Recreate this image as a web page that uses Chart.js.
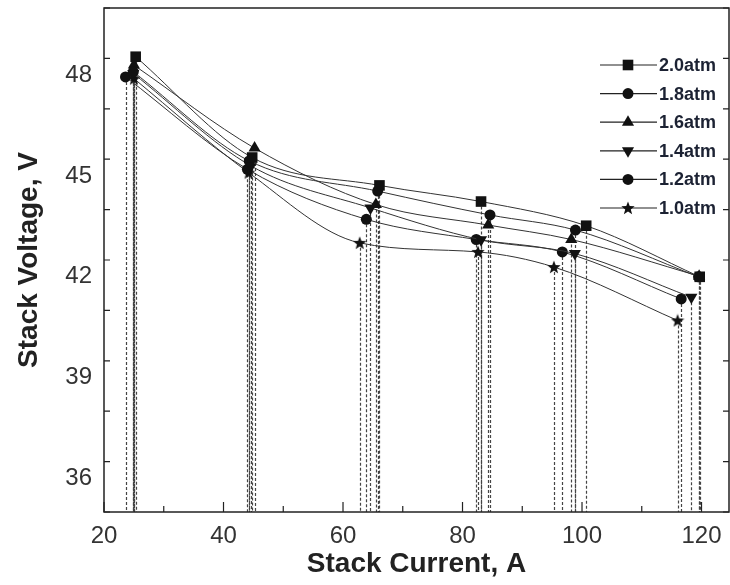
<!DOCTYPE html>
<html>
<head>
<meta charset="utf-8">
<script src="https://cdn.jsdelivr.net/npm/chart.js@4.4.1/dist/chart.umd.min.js"></script>
<style>
  html, body { margin: 0; padding: 0; background: #fff; }
  #wrap { width: 730px; height: 585px; }
</style>
</head>
<body>
<div id="wrap"><canvas id="myChart" width="730" height="585"></canvas></div>
<script>
// series names (cathode pressure)
var seriesLabels = ["2.0atm", "1.8atm", "1.6atm", "1.4atm", "1.2atm", "1.0atm"];

// stack current (A) / stack voltage (V)
var current20 = [25.3, 44.8, 66.1, 83.1, 100.7, 119.7];
var voltage20 = [48.55, 45.55, 44.72, 44.24, 43.52, 42.0];

var current18 = [24.9, 44.3, 65.8, 84.6, 98.9, 119.5];
var voltage18 = [48.1, 45.45, 44.55, 43.84, 43.39, 42.0];

var current16 = [25.0, 45.2, 65.5, 84.3, 98.2, 119.6];
var voltage16 = [48.3, 45.83, 44.15, 43.54, 43.11, 42.02];

var current14 = [24.9, 44.6, 64.6, 83.1, 98.8, 118.3];
var voltage14 = [48.05, 45.3, 44.05, 43.1, 42.69, 41.39];

var current12 = [23.6, 44.0, 63.9, 82.3, 96.7, 116.6];
var voltage12 = [47.95, 45.2, 43.71, 43.11, 42.74, 41.34];

var current10 = [25.0, 44.2, 62.8, 82.6, 95.3, 116.0];
var voltage10 = [47.9, 45.1, 43.01, 42.74, 42.29, 40.7];

var xTicks = [20, 40, 60, 80, 100, 120];
var yTicks = [36, 39, 42, 45, 48];

var FONT = "'Liberation Sans', Arial, sans-serif";

function makeStar(size) {
  var c = document.createElement('canvas');
  c.width = size; c.height = size;
  var g = c.getContext('2d');
  var cx = size / 2, cy = size / 2 + 0.5, R = size / 2, r = R * 0.42;
  g.beginPath();
  for (var i = 0; i < 10; i++) {
    var rad = i % 2 ? r : R;
    var a = -Math.PI / 2 + i * Math.PI / 5;
    g.lineTo(cx + rad * Math.cos(a), cy + rad * Math.sin(a));
  }
  g.closePath();
  g.fillStyle = '#111';
  g.fill();
  return c;
}
var starImg = makeStar(14);

var markers = [
  { style: 'rect', radius: 7.5, rotation: 0 },
  { style: 'circle', radius: 5.5, rotation: 0 },
  { style: 'triangle', radius: 7, rotation: 0 },
  { style: 'triangle', radius: 7, rotation: 180 },
  { style: 'circle', radius: 5.5, rotation: 0 },
  { style: starImg, radius: 7, rotation: 0 }
];

function pairs(xs, ys) {
  return xs.map(function (x, i) { return { x: x, y: ys[i] }; });
}

var allCurrents = [current20, current18, current16, current14, current12, current10];
var allVoltages = [voltage20, voltage18, voltage16, voltage14, voltage12, voltage10];

var datasets = seriesLabels.map(function (lab, i) {
  return {
    label: lab,
    data: pairs(allCurrents[i], allVoltages[i]),
    borderColor: '#333',
    borderWidth: 1,
    backgroundColor: '#111',
    pointBackgroundColor: '#111',
    pointBorderColor: '#111',
    pointBorderWidth: 0,
    pointStyle: markers[i].style,
    pointRadius: markers[i].radius,
    pointRotation: markers[i].rotation,
    cubicInterpolationMode: 'monotone',
    fill: false
  };
});

// no automatic padding around the axes
function noPad(s) {
  s.paddingTop = 0; s.paddingBottom = 0;
  s.paddingLeft = 0; s.paddingRight = 0;
}

// dashed drop lines from every point down to the x axis
var dropLines = {
  id: 'dropLines',
  beforeDatasetsDraw: function (chart) {
    var ctx = chart.ctx, bottom = chart.chartArea.bottom;
    ctx.save();
    ctx.strokeStyle = '#444';
    ctx.lineWidth = 1.2;
    ctx.setLineDash([3, 2]);
    chart.data.datasets.forEach(function (ds, i) {
      chart.getDatasetMeta(i).data.forEach(function (pt) {
        ctx.beginPath();
        ctx.moveTo(Math.round(pt.x) + 0.5, pt.y);
        ctx.lineTo(Math.round(pt.x) + 0.5, bottom);
        ctx.stroke();
      });
    });
    ctx.restore();
  }
};

// box frame with inward ticks
var frame = {
  id: 'frame',
  afterDraw: function (chart) {
    var ctx = chart.ctx, a = chart.chartArea;
    var xs = chart.scales.x, ys = chart.scales.y;
    ctx.save();
    ctx.strokeStyle = '#222';
    ctx.lineWidth = 1.5;
    ctx.strokeRect(a.left, a.top, a.right - a.left, a.bottom - a.top);
    ctx.lineWidth = 1.2;
    ctx.beginPath();
    for (var v = 20; v <= 124; v += 10) {
      var px = xs.getPixelForValue(v);
      var len = (v % 20 === 0) ? 10 : 6;
      ctx.moveTo(px, a.bottom); ctx.lineTo(px, a.bottom - len);
    }
    for (var w = 35; w <= 50; w += 1.5) {
      var py = ys.getPixelForValue(w);
      var l2 = (Math.abs(w % 3) < 0.01) ? 10 : 6;
      ctx.moveTo(a.left, py); ctx.lineTo(a.left + l2, py);
      ctx.moveTo(a.right, py); ctx.lineTo(a.right - l2, py);
    }
    ctx.stroke();
    ctx.restore();
  }
};

// legend inside the plot, top right
var insideLegend = {
  id: 'insideLegend',
  afterDraw: function (chart) {
    var ctx = chart.ctx;
    ctx.save();
    chart.data.datasets.forEach(function (ds, i) {
      var y = 65 + i * 28.6;
      ctx.strokeStyle = '#222';
      ctx.lineWidth = 1.2;
      ctx.beginPath();
      ctx.moveTo(600, y); ctx.lineTo(657, y);
      ctx.stroke();
      ctx.fillStyle = '#111';
      Chart.helpers.drawPoint(ctx, {
        pointStyle: ds.pointStyle,
        radius: ds.pointRadius,
        rotation: ds.pointRotation,
        borderWidth: 0
      }, 628, y);
      ctx.fillStyle = '#1c2233';
      ctx.font = 'bold 18px ' + FONT;
      ctx.textAlign = 'left';
      ctx.textBaseline = 'middle';
      ctx.fillText(ds.label, 659, y + 1);
    });
    ctx.restore();
  }
};

var chart = new Chart(document.getElementById('myChart'), {
  type: 'line',
  data: { datasets: datasets },
  options: {
    responsive: false,
    animation: false,
    layout: { autoPadding: false, padding: { left: 0, right: 1, top: 8, bottom: 0 } },
    plugins: {
      legend: { display: false },
      tooltip: { enabled: false }
    },
    scales: {
      x: {
        type: 'linear',
        min: 20,
        max: 124.6,
        grid: { display: false, drawTicks: false },
        border: { display: false },
        afterBuildTicks: function (s) { s.ticks = xTicks.map(function (v) { return { value: v }; }); },
        afterFit: function (s) { s.height = 73; noPad(s); },
        ticks: { color: '#333', padding: 10, font: { family: FONT, size: 24 } },
        title: {
          display: true,
          text: 'Stack Current, A',
          color: '#222',
          font: { family: FONT, size: 28, weight: 'bold' },
          padding: { top: 0, bottom: 4 }
        }
      },
      y: {
        type: 'linear',
        min: 35,
        max: 50,
        grid: { display: false, drawTicks: false },
        border: { display: false },
        afterBuildTicks: function (s) { s.ticks = yTicks.map(function (v) { return { value: v }; }); },
        afterFit: function (s) { s.width = 104; noPad(s); },
        ticks: { color: '#333', padding: 12, font: { family: FONT, size: 24 } },
        title: {
          display: true,
          text: 'Stack Voltage, V',
          color: '#222',
          font: { family: FONT, size: 28, weight: 'bold' },
          padding: { top: 12, bottom: 0 }
        }
      }
    }
  },
  plugins: [dropLines, frame, insideLegend]
});
</script>
</body>
</html>
